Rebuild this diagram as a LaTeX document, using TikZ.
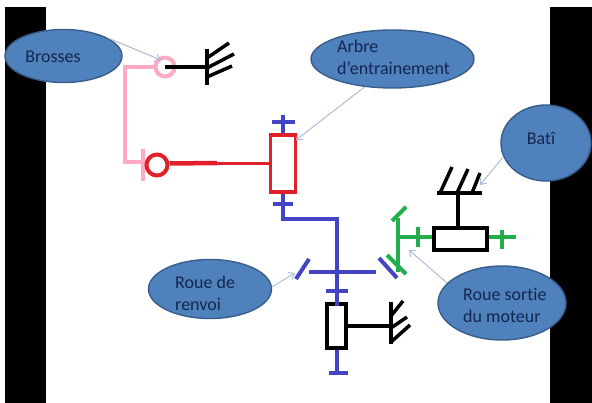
\documentclass[tikz,border=0pt]{standalone}
\usepackage{fontspec}
\setmainfont[Ligatures=NoCommon]{Carlito}
\usetikzlibrary{arrows.meta, shapes.geometric}
\definecolor{bubbleblue}{HTML}{4F81BD}
\definecolor{bubbleline}{HTML}{385D8A}
\definecolor{bubbletext}{HTML}{14264F}
\definecolor{pointerblue}{HTML}{AEBBD6}
\definecolor{shaftblue}{HTML}{4244C4}
\definecolor{shaftred}{HTML}{E2202C}
\definecolor{shaftpink}{HTML}{FFA9C2}
\definecolor{shaftgreen}{HTML}{22AE4C}
\begin{document}
\begin{tikzpicture}
        [x=1pt, y=-1pt,
         bubble/.style={
             ellipse,
             draw=bubbleline,
             line width=1.4pt,
             fill=bubbleblue,
             inner sep=0pt
         },
         bubblelabel/.style={
             text=bubbletext,
             font=\fontsize{18}{22}\selectfont,
             align=left,
             inner sep=0pt
         },
         pointer/.style={
             pointerblue,
             line width=1pt,
             -{Straight Barb[length=5pt,width=8pt]}
         },
         bearing/.style={
             draw,
             fill=white,
             line width=3.6pt,
             inner sep=0pt
         },
         blueshaft/.style={shaftblue, line width=4pt},
         redshaft/.style={shaftred, line width=3pt},
         pinkshaft/.style={shaftpink, line width=3.5pt},
         greenshaft/.style={shaftgreen, line width=4pt},
         frame/.style={black, line width=3.5pt}
         ]
        \useasboundingbox (0,0) rectangle (592,403);
        % black side bars
        \fill[black] (5,7) rectangle (46,403);
        \fill[black] (550,7) rectangle (592,403);

        % pink arm
        \coordinate (armtop) at (125,67);
        \coordinate (armlow) at (125,162);
        \coordinate (armend) at (143,162);
        \coordinate (armbar1) at (143,149);
        \coordinate (armbar2) at (143,181);
        \node[circle, bearing, draw=shaftpink, line width=4pt, minimum size=19pt] (brush) at (165,67) {};
        \draw[pinkshaft] (brush) -- (armtop) -- (armlow) -- (armend);
        \draw[pinkshaft] (armbar1) -- (armbar2);

        % black frame at the brush
        \coordinate (walla) at (207,67);
        \draw[frame] (brush.center) -- (walla);
        \draw[frame] (207,49) -- (207,85);
        \draw[frame] (207,58) -- (229,43);
        \draw[frame] (207,68) -- (234,54);
        \draw[frame] (207,77) -- (232,66);

        % red shaft
        \node[rectangle, bearing, draw=shaftred, minimum width=25pt, minimum height=57pt] (redbox) at (283,163.5) {};
        \node[circle, bearing, draw=shaftred, line width=4pt, minimum size=21pt] (wheel) at (157,165) {};
        \draw[redshaft] (wheel.east |- redbox.west) -- (redbox.west);
        \draw[shaftred, line width=4.5pt] (wheel.east |- redbox.west) -- (217,163);

        % blue shaft
        \coordinate (captop) at (283,115);
        \coordinate (elbow1) at (283,219);
        \coordinate (elbow2) at (337,219);
        \coordinate (shaftend) at (337,373);
        \draw[blueshaft] (captop) -- (redbox.north);
        \draw[blueshaft] (272,122) -- (295,122);
        \draw[blueshaft] (redbox.south) -- (elbow1) -- (elbow2) -- (shaftend);
        \draw[blueshaft] (273,204) -- (293,204);
        \draw[blueshaft] (309,272) -- (376,272);
        \draw[blueshaft] (296,279) -- (309,259);
        \draw[blueshaft] (379,258) -- (397,278);
        \draw[blueshaft] (326,291) -- (348,291);
        \draw[blueshaft] (329,373) -- (348,373);

        % lower bearing and frame
        \node[rectangle, bearing, draw=black, minimum width=19pt, minimum height=44pt] (lowbox) at (336.5,326) {};
        \draw[blueshaft] (337,294) -- (337,306);
        \draw[blueshaft] (337,351) -- (337,362);
        \coordinate (wallb) at (391,326);
        \draw[frame] (lowbox.east) -- (wallb);
        \draw[frame] (391,302) -- (391,344);
        \draw[frame] (391,316) -- (403,301);
        \draw[frame] (391,328) -- (407,317);
        \draw[frame] (391,342) -- (410,325);

        % motor output
        \node[rectangle, bearing, draw=black, minimum width=53pt, minimum height=22pt] (motorbox) at (460.5,239) {};
        \coordinate (gearhub) at (398,237);
        \coordinate (motorend) at (516,237);
        \draw[greenshaft] (motorbox.west |- gearhub) -- (gearhub);
        \draw[greenshaft] (motorbox.east |- motorend) -- (motorend);
        \draw[greenshaft] (398,218) -- (398,272);
        \draw[greenshaft] (392,221) -- (406,207);
        \draw[greenshaft] (387,255) -- (406,274);
        \draw[greenshaft] (418,227) -- (418,247);
        \draw[greenshaft] (502,230) -- (502,249);

        % frame above the motor
        \coordinate (wallc) at (458,193);
        \draw[frame] (motorbox.north -| wallc) -- (wallc);
        \draw[frame] (437,193) -- (482,193);
        \draw[frame] (440,193) -- (452,167);
        \draw[frame] (457,193) -- (468,169);
        \draw[frame] (472,193) -- (480,173);

        % bubbles
        \node[bubble, minimum width=117pt, minimum height=53pt] (brosses) at (63.5,56) {};
        \node[bubblelabel, anchor=center] (brosseslabel) at (53,57) {Brosses};
        \node[bubble, minimum width=163pt, minimum height=58pt] (arbre) at (392.5,59) {};
        \node[bubblelabel, anchor=west] (arbrelabel) at (337,57.5) {Arbre\\d’entrainement};
        \node[bubble, minimum width=90pt, minimum height=76pt] (bati) at (546,143) {};
        \node[bubblelabel, anchor=center] (batilabel) at (541,138) {Batî};
        \node[bubble, minimum width=128pt, minimum height=74pt] (sortie) at (502,303) {};
        \node[bubblelabel, anchor=west] (sortielabel) at (463,305) {Roue sortie\\du moteur};
        \node[bubble, minimum width=123pt, minimum height=59pt] (renvoi) at (210,289) {};
        \node[bubblelabel, anchor=west] (renvoilabel) at (175,293) {Roue de\\renvoi};

        % pointers
        \coordinate (brossestip) at (161,60);
        \coordinate (arbretip) at (296,140);
        \coordinate (batitip) at (480,185);
        \coordinate (sortietip) at (409,250);
        \coordinate (renvoitip) at (295,273);
        \draw[pointer] (brosses.22) -- (brossestip);
        \draw[pointer] (arbre.225) -- (arbretip);
        \draw[pointer] (bati.198) -- (batitip);
        \draw[pointer] (sortie.160) -- (sortietip);
        \draw[pointer] (renvoi.2) -- (renvoitip);
    \end{tikzpicture}
\end{document}
